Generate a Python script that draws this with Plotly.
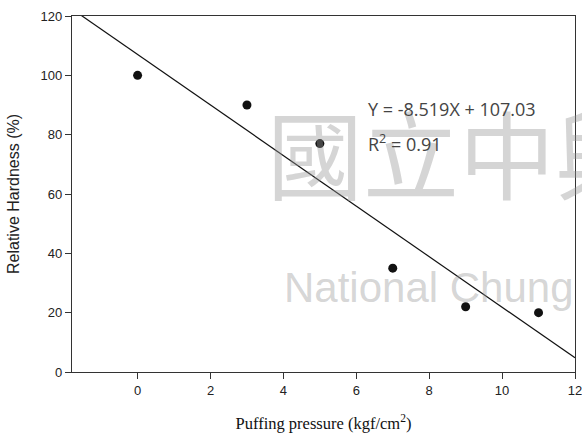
import plotly.graph_objects as go

pressure = [0, 3, 5, 7, 9, 11]
hardness = [100, 90, 77, 35, 22, 20]
slope = -8.519
intercept = 107.03
r2 = 0.91
x_range = [-1.8, 12]
y_range = [0, 120]
x_ticks = [0, 2, 4, 6, 8, 10, 12]
y_ticks = [0, 20, 40, 60, 80, 100, 120]

line_x = [x_range[0], x_range[1]]
line_y = [slope * v + intercept for v in line_x]

fig = go.Figure()
fig.add_trace(go.Scatter(x=line_x, y=line_y, mode="lines",
                         line=dict(color="#111111", width=1.2), showlegend=False))
fig.add_trace(go.Scatter(x=pressure, y=hardness, mode="markers",
                         marker=dict(color="#111111", size=9), showlegend=False))

axis_font = dict(family="Liberation Sans, Arial", size=13, color="#222222")
fig.update_xaxes(range=x_range, tickvals=x_ticks, ticks="outside", ticklen=6,
                 tickcolor="#333333", showline=True, linecolor="#333333", linewidth=1.2,
                 mirror=True, showgrid=False, zeroline=False, tickfont=axis_font,
                 automargin=False, ticklabeloverflow="allow",
                 title=dict(text="Puffing pressure (kgf/cm<sup>2</sup>)",
                            font=dict(family="Liberation Serif, Times New Roman", size=16.5, color="#111111"),
                            standoff=20))
fig.update_yaxes(range=y_range, tickvals=y_ticks, ticks="outside", ticklen=6,
                 tickcolor="#333333", showline=True, linecolor="#333333", linewidth=1.2,
                 mirror=True, showgrid=False, zeroline=False, tickfont=axis_font,
                 automargin=False, ticklabeloverflow="allow",
                 title=dict(text="Relative Hardness (%)",
                            font=dict(family="Liberation Sans, Arial", size=16, color="#222222"),
                            standoff=16))

wm_color = "rgba(150,150,150,0.40)"
annotations = [
    dict(text="國立中興", xref="paper", yref="paper", x=(265 - 72) / 503, y=(372 - 150) / 356,
         xanchor="left", yanchor="middle", showarrow=False,
         font=dict(family="Noto Sans CJK TC", size=96, color=wm_color)),
    dict(text="National Chung", xref="paper", yref="paper",
         x=(282 - 72) / 503, y=(372 - 287) / 356, xanchor="left", yanchor="middle",
         showarrow=False, font=dict(family="Liberation Sans, Arial", size=42, color=wm_color)),
    dict(text=f"Y = {slope}X + {intercept}", x=6.27, y=88.7, xanchor="left", yanchor="middle",
         showarrow=False, font=dict(family="Open Sans", size=18, color="#444444")),
    dict(text=f"R<sup>2</sup> = {r2}", x=6.27, y=77.2, xanchor="left", yanchor="middle",
         showarrow=False, font=dict(family="Open Sans", size=18, color="#444444")),
]

fig.update_layout(width=582, height=434, margin=dict(l=72, r=7, t=16, b=62),
                  plot_bgcolor="white", paper_bgcolor="white",
                  annotations=annotations)

fig.write_html("out.html")
